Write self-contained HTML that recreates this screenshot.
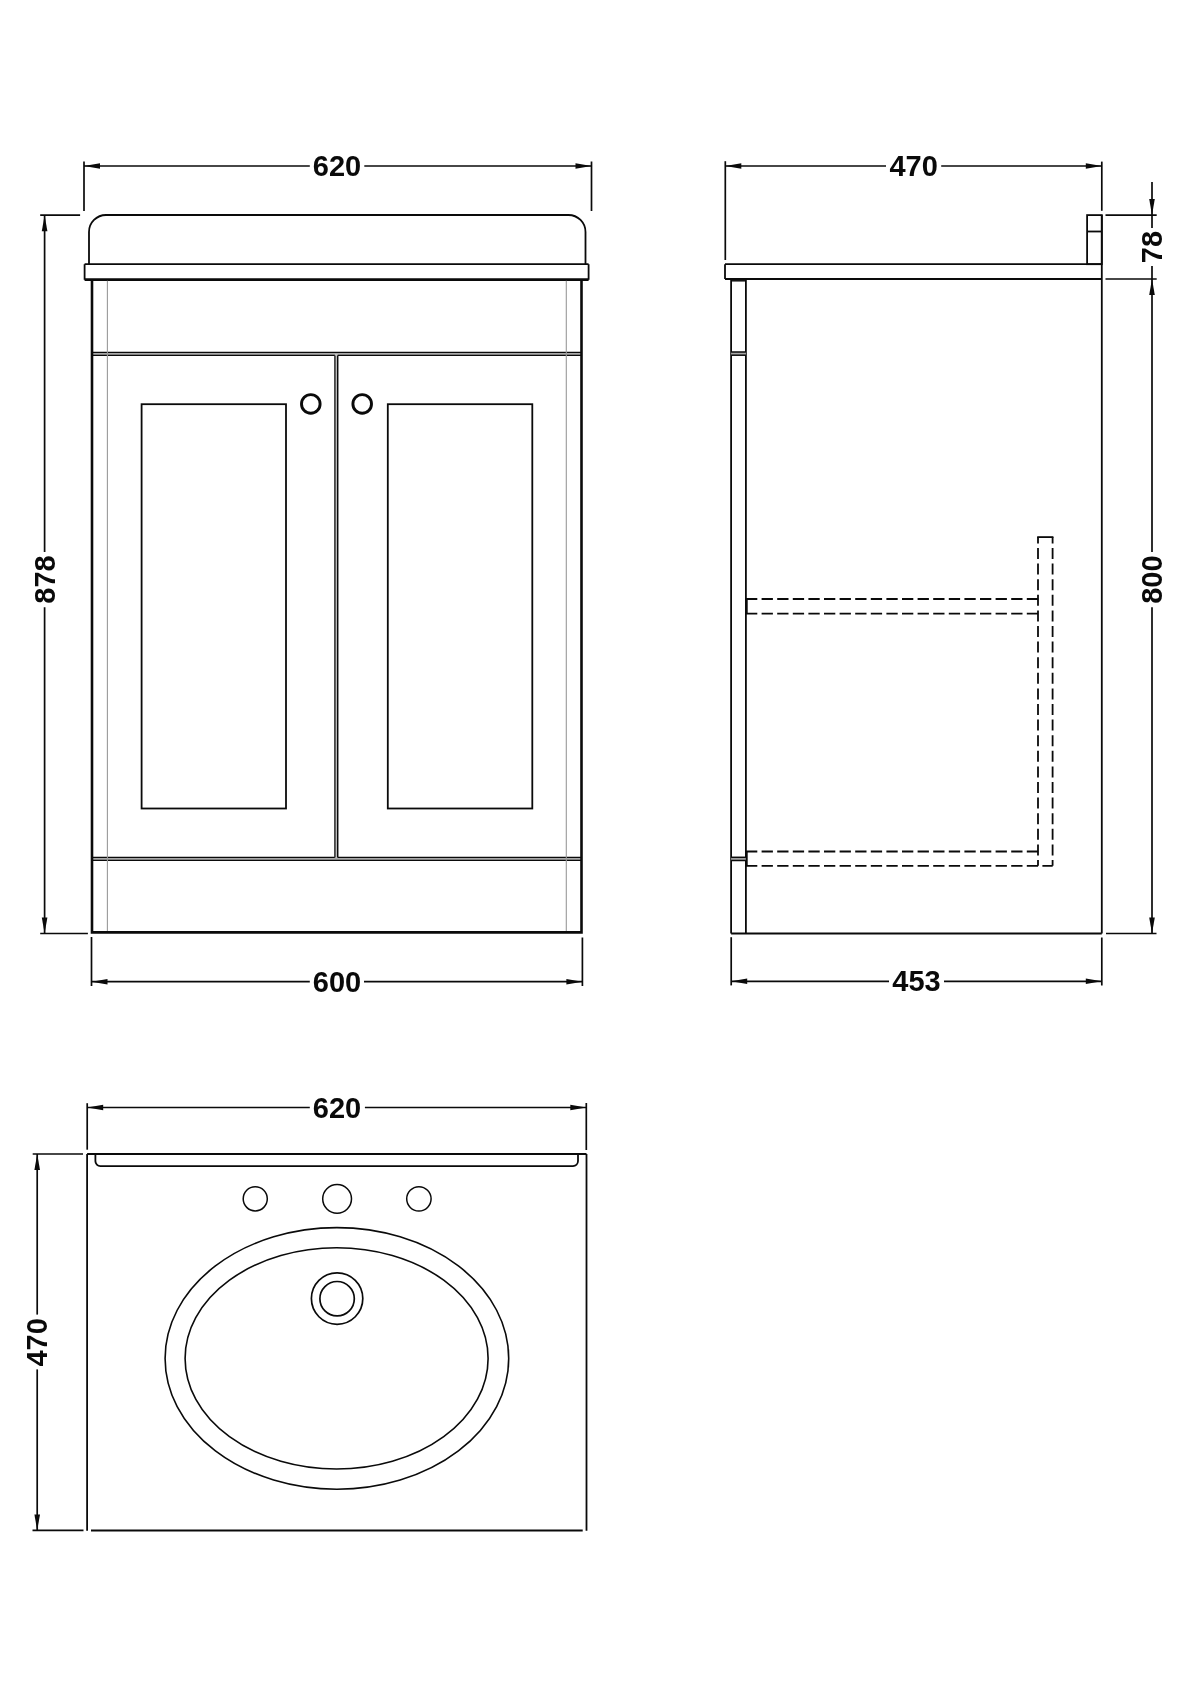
<!DOCTYPE html>
<html><head><meta charset="utf-8"><title>Vanity unit dimensions</title>
<style>
html,body{margin:0;padding:0;background:#fff;}
body{width:1200px;height:1698px;overflow:hidden;}
svg{display:block;filter:grayscale(1);}
.t{font-family:"Liberation Sans",sans-serif;font-weight:bold;font-size:29px;fill:#0a0a0a;text-anchor:middle;dominant-baseline:central;}
</style></head>
<body>
<svg width="1200" height="1698" viewBox="0 0 1200 1698">
<rect width="1200" height="1698" fill="#fff"/>
<line x1="84" y1="161.5" x2="84" y2="211" stroke="#0a0a0a" stroke-width="1.7" />
<line x1="591.5" y1="161.5" x2="591.5" y2="211" stroke="#0a0a0a" stroke-width="1.7" />
<line x1="84" y1="166" x2="309.8" y2="166" stroke="#0a0a0a" stroke-width="1.7" />
<line x1="364.3" y1="166" x2="591.5" y2="166" stroke="#0a0a0a" stroke-width="1.7" />
<polygon points="84.00,166.00 100.00,163.20 100.00,168.80" fill="#0a0a0a"/>
<polygon points="591.50,166.00 575.50,163.20 575.50,168.80" fill="#0a0a0a"/>
<text x="337" y="166" class="t">620</text>
<path d="M89,264 V232 A17,17 0 0 1 106,215 H568.5 A17,17 0 0 1 585.5,232 V264" fill="none" stroke="#0a0a0a" stroke-width="1.8"/>
<line x1="84.6" y1="264.2" x2="588.6" y2="264.2" stroke="#0a0a0a" stroke-width="1.8" />
<line x1="84.6" y1="264.2" x2="84.6" y2="279.8" stroke="#0a0a0a" stroke-width="1.8" />
<line x1="588.6" y1="264.2" x2="588.6" y2="279.8" stroke="#0a0a0a" stroke-width="1.8" />
<line x1="84.6" y1="279.6" x2="588.6" y2="279.6" stroke="#0a0a0a" stroke-width="2.6" />
<rect x="92" y="352.4" width="489.5" height="3" fill="#a8a8a8"/>
<line x1="92" y1="352.4" x2="581.5" y2="352.4" stroke="#0a0a0a" stroke-width="1.4" />
<line x1="92" y1="355.4" x2="581.5" y2="355.4" stroke="#0a0a0a" stroke-width="1.4" />
<rect x="92" y="857.4" width="489.5" height="3" fill="#a8a8a8"/>
<line x1="92" y1="857.4" x2="581.5" y2="857.4" stroke="#0a0a0a" stroke-width="1.4" />
<line x1="92" y1="860.4" x2="581.5" y2="860.4" stroke="#0a0a0a" stroke-width="1.4" />
<line x1="107.4" y1="280.8" x2="107.4" y2="931.2" stroke="#999" stroke-width="1.1" />
<line x1="566.3" y1="280.8" x2="566.3" y2="931.2" stroke="#999" stroke-width="1.1" />
<rect x="334.9" y="354" width="2.8" height="504" fill="#c4c4c4"/>
<line x1="334.9" y1="355.4" x2="334.9" y2="857.4" stroke="#2a2a2a" stroke-width="1.5" />
<line x1="337.7" y1="355.4" x2="337.7" y2="857.4" stroke="#0a0a0a" stroke-width="1.5" />
<path d="M92,279.6 V932.4 H581.5 V279.6" fill="none" stroke="#0a0a0a" stroke-width="2.6"/>
<rect x="141.6" y="404.2" width="144.4" height="404.3" fill="none" stroke="#0a0a0a" stroke-width="1.8"/>
<rect x="387.8" y="404.2" width="144.5" height="404.3" fill="none" stroke="#0a0a0a" stroke-width="1.8"/>
<circle cx="310.8" cy="403.9" r="9.3" fill="none" stroke="#0a0a0a" stroke-width="2.9"/>
<circle cx="362.2" cy="403.9" r="9.3" fill="none" stroke="#0a0a0a" stroke-width="2.9"/>
<line x1="40.2" y1="215.2" x2="80.1" y2="215.2" stroke="#0a0a0a" stroke-width="1.7" />
<line x1="40.2" y1="933.5" x2="87.9" y2="933.5" stroke="#0a0a0a" stroke-width="1.7" />
<line x1="44.6" y1="215.2" x2="44.6" y2="552" stroke="#0a0a0a" stroke-width="1.7" />
<line x1="44.6" y1="607.3" x2="44.6" y2="933.5" stroke="#0a0a0a" stroke-width="1.7" />
<polygon points="44.60,215.20 41.80,231.20 47.40,231.20" fill="#0a0a0a"/>
<polygon points="44.60,933.50 41.80,917.50 47.40,917.50" fill="#0a0a0a"/>
<text x="0" y="0" transform="translate(44.6,579.5) rotate(-90)" class="t">878</text>
<line x1="91.5" y1="937" x2="91.5" y2="986" stroke="#0a0a0a" stroke-width="1.7" />
<line x1="582.4" y1="937.5" x2="582.4" y2="986" stroke="#0a0a0a" stroke-width="1.7" />
<line x1="91.5" y1="981.7" x2="309.8" y2="981.7" stroke="#0a0a0a" stroke-width="1.7" />
<line x1="364" y1="981.7" x2="582.4" y2="981.7" stroke="#0a0a0a" stroke-width="1.7" />
<polygon points="91.50,981.70 107.50,978.90 107.50,984.50" fill="#0a0a0a"/>
<polygon points="582.40,981.70 566.40,978.90 566.40,984.50" fill="#0a0a0a"/>
<text x="337" y="981.7" class="t">600</text>
<line x1="725.3" y1="161.2" x2="725.3" y2="260" stroke="#0a0a0a" stroke-width="1.7" />
<line x1="1101.8" y1="161.6" x2="1101.8" y2="210.8" stroke="#0a0a0a" stroke-width="1.7" />
<line x1="725.3" y1="166" x2="886" y2="166" stroke="#0a0a0a" stroke-width="1.7" />
<line x1="941.2" y1="166" x2="1101.8" y2="166" stroke="#0a0a0a" stroke-width="1.7" />
<polygon points="725.30,166.00 741.30,163.20 741.30,168.80" fill="#0a0a0a"/>
<polygon points="1101.80,166.00 1085.80,163.20 1085.80,168.80" fill="#0a0a0a"/>
<text x="913.6" y="166" class="t">470</text>
<line x1="725" y1="264.2" x2="1101.8" y2="264.2" stroke="#0a0a0a" stroke-width="1.8" />
<line x1="725" y1="279" x2="1101.8" y2="279" stroke="#0a0a0a" stroke-width="2.2" />
<line x1="725" y1="264.2" x2="725" y2="279" stroke="#0a0a0a" stroke-width="1.8" />
<rect x="1087.1" y="215.1" width="14.7" height="49.1" fill="none" stroke="#0a0a0a" stroke-width="1.8"/>
<line x1="1087.1" y1="231.5" x2="1101.8" y2="231.5" stroke="#0a0a0a" stroke-width="1.8" />
<line x1="1101.8" y1="215.1" x2="1101.8" y2="933.5" stroke="#0a0a0a" stroke-width="1.8" />
<line x1="731.1" y1="933.5" x2="1101.8" y2="933.5" stroke="#0a0a0a" stroke-width="1.8" />
<line x1="731.1" y1="279" x2="731.1" y2="933.5" stroke="#0a0a0a" stroke-width="1.8" />
<line x1="745.9" y1="279" x2="745.9" y2="933.5" stroke="#0a0a0a" stroke-width="1.8" />
<rect x="731.1" y="352.0" width="14.8" height="3.2" fill="#a8a8a8"/>
<line x1="731.1" y1="352.0" x2="745.9" y2="352.0" stroke="#0a0a0a" stroke-width="1.5" />
<line x1="731.1" y1="355.2" x2="745.9" y2="355.2" stroke="#0a0a0a" stroke-width="1.5" />
<rect x="731.1" y="857.3" width="14.8" height="3.2" fill="#a8a8a8"/>
<line x1="731.1" y1="857.3" x2="745.9" y2="857.3" stroke="#0a0a0a" stroke-width="1.5" />
<line x1="731.1" y1="860.5" x2="745.9" y2="860.5" stroke="#0a0a0a" stroke-width="1.5" />
<line x1="731.1" y1="280.8" x2="745.9" y2="280.8" stroke="#0a0a0a" stroke-width="1.5" />
<line x1="746" y1="599.0" x2="1038" y2="599.0" stroke="#0a0a0a" stroke-width="1.8" stroke-dasharray="11.3 4.3"/>
<line x1="746" y1="613.6" x2="1038" y2="613.6" stroke="#0a0a0a" stroke-width="1.8" stroke-dasharray="11.3 4.3"/>
<line x1="746" y1="851.5" x2="1038" y2="851.5" stroke="#0a0a0a" stroke-width="1.8" stroke-dasharray="11.3 4.3"/>
<line x1="746" y1="865.8" x2="1052.7" y2="865.8" stroke="#0a0a0a" stroke-width="1.8" stroke-dasharray="11.3 4.3"/>
<line x1="746.8" y1="599.0" x2="746.8" y2="613.6" stroke="#0a0a0a" stroke-width="1.8" />
<line x1="746.8" y1="851.5" x2="746.8" y2="865.8" stroke="#0a0a0a" stroke-width="1.8" />
<line x1="1038" y1="537.1" x2="1038" y2="865.8" stroke="#0a0a0a" stroke-width="1.8" stroke-dasharray="11 4.6" stroke-dashoffset="4.7"/>
<line x1="1052.6" y1="537.1" x2="1052.6" y2="865.8" stroke="#0a0a0a" stroke-width="1.8" stroke-dasharray="11 4.6" stroke-dashoffset="4.7"/>
<line x1="1037.2" y1="537.1" x2="1053.4" y2="537.1" stroke="#0a0a0a" stroke-width="1.8" />
<line x1="1105.5" y1="215.1" x2="1156.7" y2="215.1" stroke="#0a0a0a" stroke-width="1.7" />
<line x1="1105.5" y1="279" x2="1156.7" y2="279" stroke="#0a0a0a" stroke-width="1.7" />
<line x1="1152" y1="182" x2="1152" y2="228" stroke="#0a0a0a" stroke-width="1.7" />
<polygon points="1152.00,215.10 1149.20,199.10 1154.80,199.10" fill="#0a0a0a"/>
<text x="0" y="0" transform="translate(1152,247) rotate(-90)" class="t">78</text>
<line x1="1152" y1="266" x2="1152" y2="552" stroke="#0a0a0a" stroke-width="1.7" />
<line x1="1152" y1="607.3" x2="1152" y2="933.5" stroke="#0a0a0a" stroke-width="1.7" />
<polygon points="1152.00,279.00 1149.20,295.00 1154.80,295.00" fill="#0a0a0a"/>
<polygon points="1152.00,933.50 1149.20,917.50 1154.80,917.50" fill="#0a0a0a"/>
<text x="0" y="0" transform="translate(1152,579.6) rotate(-90)" class="t">800</text>
<line x1="1106" y1="933.5" x2="1156.5" y2="933.5" stroke="#0a0a0a" stroke-width="1.7" />
<line x1="731.2" y1="937.2" x2="731.2" y2="985.4" stroke="#0a0a0a" stroke-width="1.7" />
<line x1="1101.8" y1="937.5" x2="1101.8" y2="985.5" stroke="#0a0a0a" stroke-width="1.7" />
<line x1="731.2" y1="981.3" x2="889" y2="981.3" stroke="#0a0a0a" stroke-width="1.7" />
<line x1="944" y1="981.3" x2="1101.8" y2="981.3" stroke="#0a0a0a" stroke-width="1.7" />
<polygon points="731.20,981.30 747.20,978.50 747.20,984.10" fill="#0a0a0a"/>
<polygon points="1101.80,981.30 1085.80,978.50 1085.80,984.10" fill="#0a0a0a"/>
<text x="916.5" y="981.3" class="t">453</text>
<line x1="87.2" y1="1103.2" x2="87.2" y2="1149.7" stroke="#0a0a0a" stroke-width="1.7" />
<line x1="586.3" y1="1103" x2="586.3" y2="1150" stroke="#0a0a0a" stroke-width="1.7" />
<line x1="87.2" y1="1107.5" x2="309.8" y2="1107.5" stroke="#0a0a0a" stroke-width="1.7" />
<line x1="364.9" y1="1107.5" x2="586.3" y2="1107.5" stroke="#0a0a0a" stroke-width="1.7" />
<polygon points="87.20,1107.50 103.20,1104.70 103.20,1110.30" fill="#0a0a0a"/>
<polygon points="586.30,1107.50 570.30,1104.70 570.30,1110.30" fill="#0a0a0a"/>
<text x="337" y="1107.5" class="t">620</text>
<line x1="87.1" y1="1154" x2="586.5" y2="1154" stroke="#0a0a0a" stroke-width="1.8" />
<line x1="87.1" y1="1154" x2="87.1" y2="1530.7" stroke="#0a0a0a" stroke-width="1.8" />
<line x1="586.5" y1="1154" x2="586.5" y2="1530.7" stroke="#0a0a0a" stroke-width="1.8" />
<line x1="91" y1="1530.5" x2="582.7" y2="1530.5" stroke="#0a0a0a" stroke-width="1.8" />
<path d="M95.4,1154 V1161 A5,5 0 0 0 100.4,1166.1 H573 A5,5 0 0 0 578,1161.1 V1154" fill="none" stroke="#0a0a0a" stroke-width="1.8"/>
<circle cx="255.25" cy="1198.85" r="12.05" fill="none" stroke="#0a0a0a" stroke-width="1.5"/>
<circle cx="337.1" cy="1198.85" r="14.4" fill="none" stroke="#0a0a0a" stroke-width="1.5"/>
<circle cx="418.9" cy="1198.85" r="12.2" fill="none" stroke="#0a0a0a" stroke-width="1.5"/>
<ellipse cx="336.9" cy="1358.4" rx="171.8" ry="130.8" fill="none" stroke="#0a0a0a" stroke-width="1.6"/>
<ellipse cx="336.6" cy="1358.4" rx="151.5" ry="110.6" fill="none" stroke="#0a0a0a" stroke-width="1.6"/>
<circle cx="337.1" cy="1298.6" r="25.7" fill="none" stroke="#0a0a0a" stroke-width="1.7"/>
<circle cx="337.1" cy="1298.7" r="17.2" fill="none" stroke="#0a0a0a" stroke-width="1.7"/>
<line x1="32.7" y1="1154" x2="83" y2="1154" stroke="#0a0a0a" stroke-width="1.7" />
<line x1="32.5" y1="1530.4" x2="83.5" y2="1530.4" stroke="#0a0a0a" stroke-width="1.7" />
<line x1="37.2" y1="1154" x2="37.2" y2="1314.6" stroke="#0a0a0a" stroke-width="1.7" />
<line x1="37.2" y1="1369.4" x2="37.2" y2="1530.4" stroke="#0a0a0a" stroke-width="1.7" />
<polygon points="37.20,1154.00 34.40,1170.00 40.00,1170.00" fill="#0a0a0a"/>
<polygon points="37.20,1530.40 34.40,1514.40 40.00,1514.40" fill="#0a0a0a"/>
<text x="0" y="0" transform="translate(37.0,1342.4) rotate(-90)" class="t">470</text>
</svg>
</body></html>
